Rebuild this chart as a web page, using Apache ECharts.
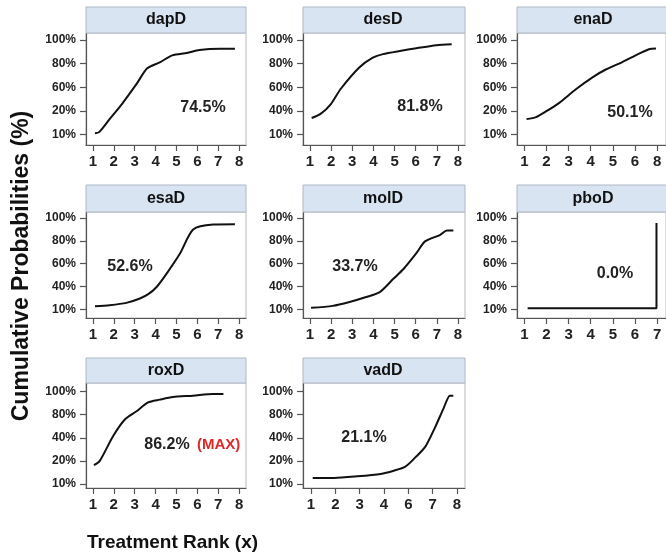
<!DOCTYPE html>
<html><head><meta charset="utf-8">
<script src="https://cdn.jsdelivr.net/npm/echarts@6/dist/echarts.min.js"></script>
<style>html,body{margin:0;padding:0;background:#fff}#c{width:666px;height:559px}</style>
</head><body><div id="c"></div><script>
// ---------- data ----------
const panelNames = ['dapD','desD','enaD','esaD','molD','pboD','roxD','vadD'];
const sucraText  = ['74.5%','81.8%','50.1%','52.6%','33.7%','0.0%','86.2%','21.1%'];
const maxTag = '(MAX)';
const yAxisTitle = 'Cumulative Probabilities (%)';
const xAxisTitle = 'Treatment Rank (x)';

// y tick labels (bottom to top) placed at plotted values 20,40,60,80,100
const yTickValues = [20,40,60,80,100];
const dapD_yTicks = ['10%','20%','60%','80%','100%'];
const desD_yTicks = ['10%','40%','60%','80%','100%'];
const enaD_yTicks = ['10%','20%','60%','80%','100%'];
const esaD_yTicks = ['10%','40%','60%','80%','100%'];
const molD_yTicks = ['10%','40%','60%','80%','100%'];
const pboD_yTicks = ['10%','40%','60%','80%','100%'];
const roxD_yTicks = ['10%','20%','40%','80%','100%'];
const vadD_yTicks = ['10%','20%','40%','80%','100%'];

// x tick labels at rank positions 1..n
const xTicks8 = ['1','2','3','4','5','6','7','8'];
const enaD_xTicks = ['1','2','3','4','5','6','8',''];
const pboD_xTicks = ['1','2','3','4','5','6','7',''];
const vadD_xTicks = ['1','2','3','4','6','7','8'];

// curves (x = rank position, y = plotted percent)
const dapD_x = [1.1,1.3,1.8,2.4,3.1,3.6,4.2,4.8,5.5,6.1,7.1,7.8];
const dapD_y = [21,22,33,46,63,76,81,87,89,91.5,92.5,92.5];
const desD_x = [1.08,1.5,2.0,2.45,3.33,3.97,4.45,5.25,6.03,6.98,7.7];
const desD_y = [34,37.4,46,58.5,76.7,85,88,90.7,93,95.5,96.4];
const enaD_x = [1.1,1.53,1.98,2.58,3.33,4.08,4.68,5.43,6.03,6.63,6.95];
const enaD_y = [33,34.7,39.5,46.8,58.3,68.4,75,81.3,87,92.2,92.8];
const esaD_x = [1.1,1.8,2.6,3.25,3.65,4.05,4.53,5.17,5.8,6.76,7.8];
const esaD_y = [22.9,23.8,25.8,29.6,33.4,39.7,51.4,68.9,89.9,94.2,94.5];
const molD_x = [1.05,2.07,2.87,3.66,4.3,4.93,5.41,6.04,6.44,7.16,7.47,7.78];
const molD_y = [21.5,23.2,26.6,30.9,35.2,46.6,55.2,69.5,79.5,85.3,89,89];
const pboD_x = [1.15,6.97,6.97];
const pboD_y = [21.2,21.2,95.5];
const roxD_x = [1.05,1.33,1.97,2.53,3.09,3.64,4.2,4.83,5.79,6.74,7.25];
const roxD_y = [36.3,40,61.5,75.8,82.9,90.6,93,95.3,96.4,97.9,97.9];
const vadD_x = [1.07,1.95,2.9,3.86,4.4,4.88,5.29,5.7,6.1,6.44,6.71,6.85];
const vadD_y = [25.2,25.2,26.6,28.7,31.5,35,43,52.3,69,85,96.4,96.4];

const xs = [dapD_x,desD_x,enaD_x,esaD_x,molD_x,pboD_x,roxD_x,vadD_x];
const ys = [dapD_y,desD_y,enaD_y,esaD_y,molD_y,pboD_y,roxD_y,vadD_y];
const yTickSets = [dapD_yTicks,desD_yTicks,enaD_yTicks,esaD_yTicks,molD_yTicks,pboD_yTicks,roxD_yTicks,vadD_yTicks];
const xTickSets = [xTicks8,xTicks8,enaD_xTicks,xTicks8,xTicks8,pboD_xTicks,xTicks8,vadD_xTicks];

// ---------- layout ----------
const FONT = '"Liberation Sans", Arial, sans-serif';
const cols = [
  {left:86,width:160,tc:166,xmax:8.33},
  {left:303,width:162,tc:383,xmax:8.33},
  {left:517,width:150,tc:593,xmax:7.4}
];
const rows = [
  {top:33,height:112,htop:7,ymin:11.1,ymax:105.9},
  {top:212,height:106,htop:185,ymin:12.6,ymax:105.2},
  {top:383,height:105,htop:358,ymin:16.5,ymax:107.4}
];
const labelPos = [[203,108],[420,107],[630,113],[130,267],[355,267],[615,274],[167,445],[364,438]];

const grids=[],xAxes=[],yAxes=[],series=[],graphics=[];
panelNames.forEach((name,i)=>{
  const c = cols[i%3], r = rows[Math.floor(i/3)];
  const xl = xTickSets[i];
  const nPos = (i===7) ? 7 : 8;
  const xmax = (i===7) ? 7.33 : c.xmax;
  const posVals = []; for(let k=1;k<=nPos;k++) if(k<=xmax) posVals.push(k);
  grids.push({left:c.left,top:r.top,width:c.width,height:r.height,show:true,
    borderColor:'#b8b8b8',borderWidth:1,backgroundColor:'#fff',containLabel:false});
  xAxes.push({type:'value',gridIndex:i,min:0.67,max:xmax,
    axisLine:{show:true,onZero:false,lineStyle:{color:'#555',width:1.2}},
    axisTick:{show:true,length:6,customValues:posVals,lineStyle:{color:'#555',width:1.2}},
    axisLabel:{customValues:posVals,margin:9,color:'#222',fontFamily:FONT,fontWeight:'bold',fontSize:15,
      formatter:(v)=>xl[Math.round(v)-1]||''},
    splitLine:{show:false}});
  const yl = yTickSets[i];
  yAxes.push({type:'value',gridIndex:i,min:r.ymin,max:r.ymax,
    axisLine:{show:true,onZero:false,lineStyle:{color:'#555',width:1.2}},
    axisTick:{show:true,length:6,customValues:yTickValues,lineStyle:{color:'#555',width:1.2}},
    axisLabel:{customValues:yTickValues,margin:10,color:'#222',fontFamily:FONT,fontWeight:'bold',fontSize:12,
      formatter:(v)=>yl[Math.round((v-20)/20)]||''},
    splitLine:{show:false}});
  series.push({type:'line',xAxisIndex:i,yAxisIndex:i,showSymbol:false,smooth:(name==='pboD')?false:0.25,
    data:xs[i].map((x,k)=>[x,ys[i][k]]),lineStyle:{color:'#111',width:2},silent:true,animation:false});
  // header strip
  graphics.push({type:'rect',shape:{x:c.left,y:r.htop,width:c.width,height:r.top-r.htop},
    style:{fill:'#d9e4f2',stroke:'#aeb8c6',lineWidth:1},z:10});
  graphics.push({type:'text',x:c.tc,y:(r.htop+r.top)/2,z:11,
    style:{text:name,font:'bold 16px '+FONT,fill:'#111',align:'center',verticalAlign:'middle'}});
  // SUCRA label
  const p = labelPos[i];
  graphics.push({type:'text',x:p[0],y:p[1],z:11,
    style:{text:sucraText[i],font:'bold 16px '+FONT,fill:'#222',align:'center',verticalAlign:'middle'}});
});
graphics.push({type:'text',x:197,y:445,z:11,
  style:{text:maxTag,font:'bold 15px '+FONT,fill:'#e02828',align:'left',verticalAlign:'middle'}});
graphics.push({type:'text',x:22,y:266,rotation:Math.PI/2,z:11,
  style:{text:yAxisTitle,font:'bold 23px '+FONT,fill:'#111',align:'center',verticalAlign:'middle'}});
graphics.push({type:'text',x:87,y:543,z:11,
  style:{text:xAxisTitle,font:'bold 19px '+FONT,fill:'#111',align:'left',verticalAlign:'middle'}});

const chart = echarts.init(document.getElementById('c'),null,{renderer:'canvas'});
chart.setOption({animation:false,backgroundColor:'#fff',grid:grids,xAxis:xAxes,yAxis:yAxes,series:series,graphic:graphics});
</script></body></html>
